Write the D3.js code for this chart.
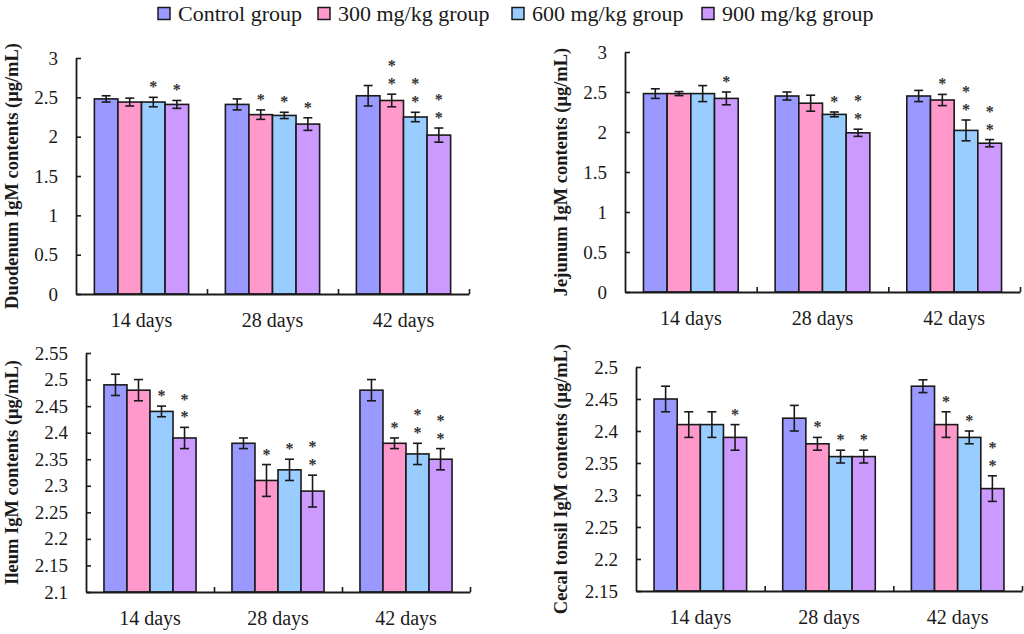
<!DOCTYPE html>
<html>
<head>
<meta charset="utf-8">
<script src="https://cdn.jsdelivr.net/npm/d3@7"></script>
<style>
  html, body { margin: 0; padding: 0; background: #fff; }
  svg { display: block; }
  svg text { font-family: "Liberation Serif", "Times New Roman", serif !important; }
</style>
</head>
<body>
<svg id="chart" width="1024" height="634"></svg>
<script>
// ---------------- DATA ----------------
const days = ["14 days", "28 days", "42 days"];
const groups = ["Control group", "300 mg/kg group", "600 mg/kg group", "900 mg/kg group"];
const groupColors = ["#9999FF", "#FF99CC", "#99CCFF", "#CC99FF"];

const duodenumMean = [[2.48, 2.44, 2.44, 2.41], [2.41, 2.28, 2.27, 2.16], [2.52, 2.46, 2.25, 2.02]];
const duodenumErr  = [[0.04, 0.05, 0.06, 0.05], [0.07, 0.06, 0.04, 0.08], [0.13, 0.08, 0.06, 0.09]];
const duodenumStars = [[0, 0, 1, 1], [0, 1, 1, 1], [0, 2, 2, 2]];
const duodenumTicks = [0, 0.5, 1, 1.5, 2, 2.5, 3];

const jejunumMean = [[2.48, 2.48, 2.48, 2.42], [2.45, 2.36, 2.22, 1.99], [2.45, 2.40, 2.02, 1.86]];
const jejunumErr  = [[0.06, 0.025, 0.10, 0.08], [0.05, 0.10, 0.03, 0.045], [0.07, 0.07, 0.13, 0.045]];
const jejunumStars = [[0, 0, 0, 1], [0, 0, 1, 2], [0, 1, 2, 2]];
const jejunumTicks = [0, 0.5, 1, 1.5, 2, 2.5, 3];

const ileumMean = [[2.49, 2.48, 2.44, 2.39], [2.38, 2.31, 2.33, 2.29], [2.48, 2.38, 2.36, 2.35]];
const ileumErr  = [[0.02, 0.02, 0.01, 0.02], [0.01, 0.03, 0.02, 0.03], [0.02, 0.01, 0.02, 0.02]];
const ileumStars = [[0, 0, 1, 2], [0, 1, 1, 2], [0, 1, 2, 2]];
const ileumTicks = [2.1, 2.15, 2.2, 2.25, 2.3, 2.35, 2.4, 2.45, 2.5, 2.55];

const cecalMean = [[2.45, 2.41, 2.41, 2.39], [2.42, 2.38, 2.36, 2.36], [2.47, 2.41, 2.39, 2.31]];
const cecalErr  = [[0.02, 0.02, 0.02, 0.02], [0.02, 0.01, 0.01, 0.01], [0.01, 0.02, 0.01, 0.02]];
const cecalStars = [[0, 0, 0, 1], [0, 1, 1, 1], [0, 1, 1, 2]];
const cecalTicks = [2.15, 2.2, 2.25, 2.3, 2.35, 2.4, 2.45, 2.5];

const yTitles = [
  "Duodenum IgM contents (\u03bcg/mL)",
  "Jejunum IgM contents (\u03bcg/mL)",
  "Ileum IgM contents (\u03bcg/mL)",
  "Cecal tonsil IgM contents (\u03bcg/mL)"
];

// ---------------- LAYOUT ----------------
const panels = [
  { mean: duodenumMean, err: duodenumErr, stars: duodenumStars, ticks: duodenumTicks, title: yTitles[0],
    x0: 76, x1: 469, yTop: 58, yBot: 294, titleX: 18 },
  { mean: jejunumMean, err: jejunumErr, stars: jejunumStars, ticks: jejunumTicks, title: yTitles[1],
    x0: 625, x1: 1020, yTop: 52, yBot: 292, titleX: 567 },
  { mean: ileumMean, err: ileumErr, stars: ileumStars, ticks: ileumTicks, title: yTitles[2],
    x0: 86, x1: 470, yTop: 353, yBot: 592, titleX: 18 },
  { mean: cecalMean, err: cecalErr, stars: cecalStars, ticks: cecalTicks, title: yTitles[3],
    x0: 636, x1: 1022, yTop: 367, yBot: 591, titleX: 567 }
];

const svg = d3.select("#chart");
const ink = "#1a1a1a";
const serif = '"Liberation Serif", "Times New Roman", serif';
const starSize = 16, starStep = 17.8;

panels.forEach(p => {
  const g = svg.append("g");
  const y = d3.scaleLinear()
    .domain([p.ticks[0], p.ticks[p.ticks.length - 1]])
    .range([p.yBot, p.yTop]);
  const xb = d3.scaleBand().domain(days).range([p.x0, p.x1]).padding(0);
  const inner = d3.scaleBand().domain(groups.map((d, i) => i))
    .range([0, xb.bandwidth()]).paddingInner(0).paddingOuter(0.78);
  const bw = inner.bandwidth();

  days.forEach((day, di) => {
    const gx = xb(day);
    groups.forEach((grp, gi) => {
      const v = p.mean[di][gi], e = p.err[di][gi];
      const bx = gx + inner(gi);
      g.append("rect")
        .attr("x", bx).attr("y", y(v))
        .attr("width", bw).attr("height", p.yBot - y(v))
        .attr("fill", groupColors[gi])
        .attr("stroke", ink).attr("stroke-width", 1.6);
      const cx = bx + bw / 2;
      const cap = 4.5;
      const eb = g.append("g").attr("stroke", ink).attr("stroke-width", 1.6);
      eb.append("line").attr("x1", cx).attr("x2", cx).attr("y1", y(v + e)).attr("y2", y(v - e));
      eb.append("line").attr("x1", cx - cap).attr("x2", cx + cap).attr("y1", y(v + e)).attr("y2", y(v + e));
      eb.append("line").attr("x1", cx - cap).attr("x2", cx + cap).attr("y1", y(v - e)).attr("y2", y(v - e));
      const n = p.stars[di][gi];
      for (let k = 0; k < n; k++) {
        const centerY = y(v + e) - 13 - k * starStep;
        g.append("text")
          .attr("x", cx).attr("y", centerY + starSize * 0.5)
          .attr("text-anchor", "middle")
          .attr("font-size", starSize)
          .attr("font-weight", "bold")
          .attr("fill", "#333")
          .style("font-family", serif)
          .text("*");
      }
    });
  });

  // y axis
  const ya = d3.axisLeft(y).tickValues(p.ticks).tickSizeInner(-5).tickSizeOuter(0)
    .tickPadding(18).tickFormat(d => String(d));
  const yg = g.append("g").attr("transform", `translate(${p.x0},0)`).call(ya)
    .attr("font-family", null).attr("font-size", null);
  yg.select(".domain").attr("stroke", ink).attr("stroke-width", 1.8);
  yg.selectAll(".tick line").attr("stroke", ink).attr("stroke-width", 1.6);
  yg.selectAll(".tick text").attr("font-size", 19).attr("fill", ink).style("font-family", serif);

  // x axis with boundary ticks
  const xl = d3.scaleLinear().domain([0, days.length]).range([p.x0, p.x1]);
  const xa = d3.axisBottom(xl).tickValues(d3.range(1, days.length + 1)).tickSizeInner(-5)
    .tickSizeOuter(0).tickFormat("");
  const xg = g.append("g").attr("transform", `translate(0,${p.yBot})`).call(xa);
  xg.select(".domain").attr("stroke", ink).attr("stroke-width", 1.8);
  xg.selectAll(".tick line").attr("stroke", ink).attr("stroke-width", 1.6);
  xg.selectAll(".tick text").remove();

  // category labels
  const xc = d3.axisBottom(xb).tickSize(0).tickPadding(19);
  const xcg = g.append("g").attr("transform", `translate(0,${p.yBot})`).call(xc)
    .attr("font-family", null).attr("font-size", null);
  xcg.select(".domain").remove();
  xcg.selectAll(".tick text").attr("font-size", 20).attr("fill", ink).style("font-family", serif);

  // y title
  const cy = (p.yTop + p.yBot) / 2;
  g.append("text")
    .attr("transform", `translate(${p.titleX},${cy}) rotate(-90)`)
    .attr("text-anchor", "middle")
    .attr("font-size", 18.5)
    .attr("font-weight", "bold")
    .attr("fill", ink)
    .style("font-family", serif)
    .text(p.title);
});

// ---------------- LEGEND ----------------
const legendX = [158, 318, 512, 702];
const leg = svg.append("g");
groups.forEach((grp, i) => {
  leg.append("rect")
    .attr("x", legendX[i]).attr("y", 7.5)
    .attr("width", 12).attr("height", 12)
    .attr("fill", groupColors[i]).attr("stroke", ink).attr("stroke-width", 1.5);
  leg.append("text")
    .attr("x", legendX[i] + 20).attr("y", 21)
    .attr("font-size", 22).attr("fill", ink)
    .style("font-family", serif)
    .text(grp);
});
</script>
</body>
</html>
